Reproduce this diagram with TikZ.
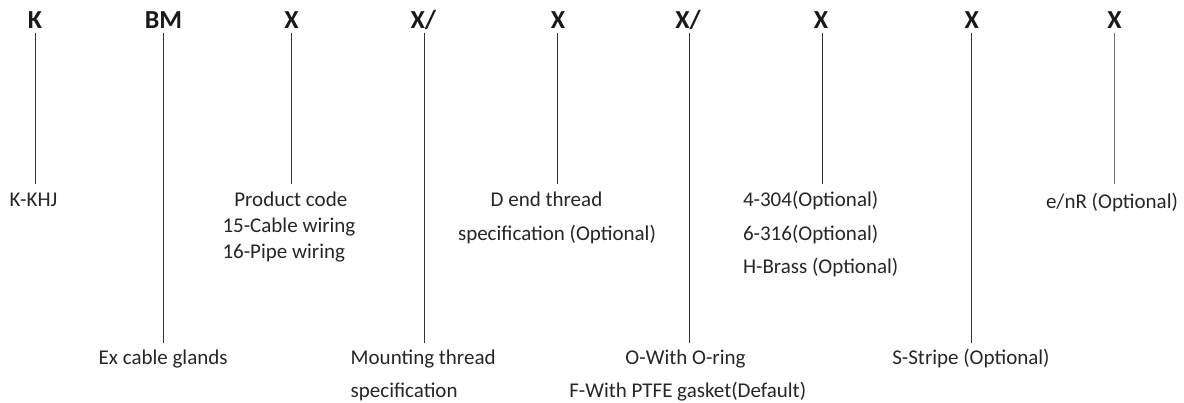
\documentclass[tikz,border=0pt]{standalone}
\usepackage{fontspec}
\setmainfont{Carlito}
\begin{document}
\begin{tikzpicture}[x=1pt,y=-1pt,
  hd/.style={font=\fontsize{26}{26}\selectfont\bfseries, text=black!90, inner sep=0pt, anchor=base},
  lb/.style={font=\fontsize{21}{22}\selectfont, text=black!85, inner sep=0pt, anchor=base},
  lbl/.style={lb, anchor=base west},
  ln/.style={draw=black!80, line width=0.9pt}]
\useasboundingbox (0,0) rectangle (1184,403);
% header codes
\node[hd] (h1) at (35,28.3) {K};
\node[hd] (h2) at (163.5,28.3) {BM};
\node[hd] (h3) at (291.5,28.3) {X};
\node[hd] (h4) at (423.3,28.3) {X/};
\node[hd] (h5) at (558,28.3) {X};
\node[hd] (h6) at (688,28.3) {X/};
\node[hd] (h7) at (821,28.3) {X};
\node[hd] (h8) at (971.8,28.3) {X};
\node[hd] (h9) at (1114.5,28.3) {X};
% line ends
\coordinate (s1) at (35,32.7);    \coordinate (e1) at (35,184.5);
\coordinate (s2) at (163.5,32.7); \coordinate (e2) at (163.5,342.7);
\coordinate (s3) at (291.7,32.7); \coordinate (e3) at (291.7,184.5);
\coordinate (s4) at (424,32.7);   \coordinate (e4) at (424,342.7);
\coordinate (s5) at (557.3,32.7); \coordinate (e5) at (557.3,184.5);
\coordinate (s6) at (689.3,32.7); \coordinate (e6) at (689.3,342.7);
\coordinate (s7) at (822.5,32.7); \coordinate (e7) at (822.5,184.5);
\coordinate (s8) at (971.5,32.7); \coordinate (e8) at (971.5,342.7);
\coordinate (s9) at (1114.7,32.7);\coordinate (e9) at (1114.7,184.5);
\draw[ln] (s1) -- (e1);
\draw[ln] (s2) -- (e2);
\draw[ln] (s3) -- (e3);
\draw[ln] (s4) -- (e4);
\draw[ln] (s5) -- (e5);
\draw[ln] (s6) -- (e6);
\draw[ln] (s7) -- (e7);
\draw[ln] (s8) -- (e8);
\draw[ln, draw=black!55] (s9) -- (e9);
% labels
\node[lb] (t1) at (33.5,206.3) {K-KHJ};
\node[lb] (t3a) at (290.8,206.7) {Product code};
\node[lbl] (t3b) at (222.3,232.7) {15-Cable wiring};
\node[lbl] (t3c) at (222.3,259) {16-Pipe wiring};
\node[lb] (t5a) at (546.5,206.7) {D end thread};
\node[lb] (t5b) at (557,241) {specification (Optional)};
\node[lbl] (t7a) at (742.8,206.7) {4-304(Optional)};
\node[lbl] (t7b) at (742.8,240.5) {6-316(Optional)};
\node[lbl] (t7c) at (742.8,274) {H-Brass (Optional)};
\node[lb] (t9) at (1112,208.5) {e/nR (Optional)};
\node[lb] (t2) at (163.2,365) {Ex cable glands};
\node[lbl] (t4a) at (350.5,365) {Mounting thread};
\node[lbl] (t4b) at (350.5,397.5) {specification};
\node[lb] (t6a) at (685.5,365) {O-With O-ring};
\node[lb] (t6b) at (687.7,397.5) {F-With PTFE gasket(Default)};
\node[lb] (t8) at (971,365) {S-Stripe (Optional)};
\end{tikzpicture}
\end{document}
